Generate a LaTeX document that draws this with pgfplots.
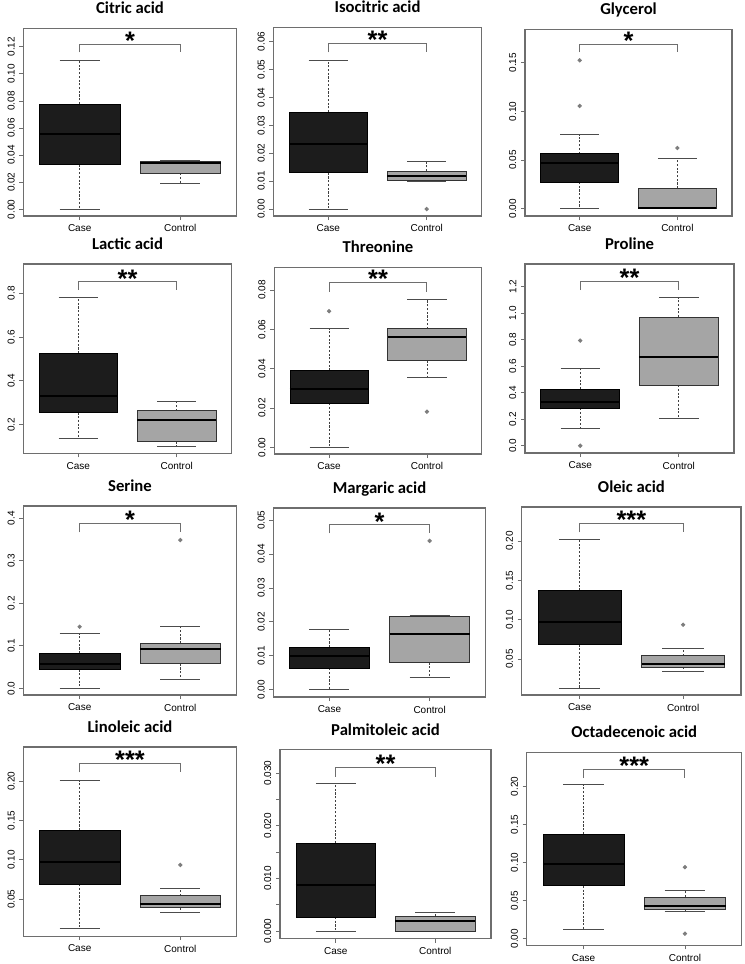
\documentclass[border=0pt]{standalone}
\usepackage{pgfplots}
\pgfplotsset{compat=1.18}
\usepgfplotslibrary{statistics}
\usepackage{fontspec}
\setmainfont{Liberation Sans}
\newfontfamily\titlefont{Carlito}
\definecolor{casefill}{RGB}{28,28,28}
\definecolor{ctrlfill}{RGB}{165,165,165}
\definecolor{framec}{RGB}{110,110,110}
\definecolor{outl}{RGB}{125,125,125}

\tikzset{
  wline/.style={draw=black!75, fill=none, line width=0.6pt, dash pattern=on 1.6pt off 1.2pt},
  cline/.style={draw=black!70, fill=none, line width=0.7pt, solid},
  stars/.style={font=\bfseries\fontsize{19}{19}\selectfont, anchor=base, inner sep=0pt, yshift=-3.9pt},
}

\pgfplotsset{
  every axis title shift=0pt,
  bp/.style={
    scale only axis, anchor=north west, clip=false,
    xmin=0.44, xmax=2.56,
    xtick={1,2}, xticklabels={Case,Control},
    tick align=outside, xtick pos=bottom, ytick pos=left,
    major tick length=3pt,
    scaled y ticks=false,
    axis line style={framec, line width=0.9pt},
    tick style={framec, line width=0.6pt},
    ticklabel style={font=\fontsize{7.5}{9}\selectfont},
    yticklabel style={rotate=90, anchor=south},
    title style={font=\titlefont\bfseries\fontsize{12.5}{15}\selectfont, anchor=base, at={(0.5,1)}, yshift=11pt},
    boxplot/draw direction=y,
    boxplot/box extend=0.8,
    boxplot/whisker extend=0.4,
    boxplot/every median/.style={draw=black, line width=1.5pt},
    boxplot/draw/lower whisker/.code={%
      \draw[wline] (boxplot box cs:\pgfplotsboxplotvalue{lower quartile},0.5) -- (boxplot box cs:\pgfplotsboxplotvalue{lower whisker},0.5);
      \draw[cline] (boxplot whisker cs:\pgfplotsboxplotvalue{lower whisker},0) -- (boxplot whisker cs:\pgfplotsboxplotvalue{lower whisker},1);
    },
    boxplot/draw/upper whisker/.code={%
      \draw[wline] (boxplot box cs:\pgfplotsboxplotvalue{upper quartile},0.5) -- (boxplot box cs:\pgfplotsboxplotvalue{upper whisker},0.5);
      \draw[cline] (boxplot whisker cs:\pgfplotsboxplotvalue{upper whisker},0) -- (boxplot whisker cs:\pgfplotsboxplotvalue{upper whisker},1);
    },
  },
  case/.style={fill=casefill, draw=black, line width=0.6pt, mark=*, mark size=1.3pt, mark options={fill=outl, draw=outl, solid}},
  ctrl/.style={fill=ctrlfill, draw=black!80, line width=0.6pt, mark=*, mark size=1.3pt, mark options={fill=outl, draw=outl, solid}},
  brk/.style={draw=framec, line width=0.7pt, mark=none},
}

\begin{document}
\begin{tikzpicture}
\useasboundingbox (0,0) rectangle (558pt,-723pt);

% row 1
\begin{axis}[bp, at={(17.5pt,-21.2pt)}, width=160pt, height=140.8pt, title={Citric acid},
  ymin=-0.0049, ymax=0.1336, ytick={0,0.02,0.04,0.06,0.08,0.10,0.12},
  yticklabels={0.00,0.02,0.04,0.06,0.08,0.10,0.12}]
\addplot[case, boxplot prepared={draw position=1, lower whisker=0, lower quartile=0.033, median=0.0553, upper quartile=0.0777, upper whisker=0.1095}] coordinates {};
\addplot[ctrl, boxplot prepared={draw position=2, lower whisker=0.0194, lower quartile=0.0266, median=0.0342, upper quartile=0.0352, upper whisker=0.0362}] coordinates {};
\addplot[brk] coordinates {(1,0.1159) (1,0.1218) (2,0.1218) (2,0.1159)};
\node[stars] at (axis cs:1.5,0.1218) {*};
\end{axis}

\begin{axis}[bp, at={(205pt,-20.5pt)}, width=156.3pt, height=141.5pt, title={Isocitric acid},
  ymin=-0.0025, ymax=0.0651, ytick={0,0.01,0.02,0.03,0.04,0.05,0.06},
  yticklabels={0.00,0.01,0.02,0.03,0.04,0.05,0.06}]
\addplot[case, boxplot prepared={draw position=1, lower whisker=0, lower quartile=0.0130, median=0.0233, upper quartile=0.0347, upper whisker=0.0534}] coordinates {};
\addplot[ctrl, boxplot prepared={draw position=2, lower whisker=0.0100, lower quartile=0.0102, median=0.0119, upper quartile=0.0136, upper whisker=0.0172}] coordinates {(0,0.0)};
\addplot[brk] coordinates {(1,0.0561) (1,0.0593) (2,0.0593) (2,0.0561)};
\node[stars] at (axis cs:1.5,0.0593) {**};
\end{axis}

\begin{axis}[bp, at={(393.75pt,-22pt)}, width=155.3pt, height=140pt, title={Glycerol},
  ymin=-0.0075, ymax=0.1842, ytick={0,0.05,0.10,0.15},
  yticklabels={0.00,0.05,0.10,0.15}]
\addplot[case, boxplot prepared={draw position=1, lower whisker=0, lower quartile=0.0274, median=0.0473, upper quartile=0.0565, upper whisker=0.0760}] coordinates {(0,0.1055) (0,0.1524)};
\addplot[ctrl, boxplot prepared={draw position=2, lower whisker=0, lower quartile=0, median=0.0005, upper quartile=0.0209, upper whisker=0.0514}] coordinates {(0,0.0623)};
\addplot[brk] coordinates {(1,0.1606) (1,0.169) (2,0.169) (2,0.1606)};
\node[stars] at (axis cs:1.5,0.169) {*};
\end{axis}

% row 2
\begin{axis}[bp, at={(17.5pt,-198pt)}, width=156.3pt, height=142pt, title={Lactic acid},
  ymin=0.069, ymax=0.934, ytick={0.2,0.4,0.6,0.8},
  yticklabels={0.2,0.4,0.6,0.8}]
\addplot[case, boxplot prepared={draw position=1, lower whisker=0.139, lower quartile=0.256, median=0.331, upper quartile=0.526, upper whisker=0.780}] coordinates {};
\addplot[ctrl, boxplot prepared={draw position=2, lower whisker=0.1025, lower quartile=0.122, median=0.220, upper quartile=0.264, upper whisker=0.305}] coordinates {};
\addplot[brk] coordinates {(1,0.815) (1,0.852) (2,0.852) (2,0.815)};
\node[stars] at (axis cs:1.5,0.852) {**};
\end{axis}

\begin{axis}[bp, at={(205.7pt,-200.5pt)}, width=155.6pt, height=140pt, title={Threonine},
  ymin=-0.0034, ymax=0.0915, ytick={0,0.02,0.04,0.06,0.08},
  yticklabels={0.00,0.02,0.04,0.06,0.08}]
\addplot[case, boxplot prepared={draw position=1, lower whisker=0, lower quartile=0.0225, median=0.0298, upper quartile=0.039, upper whisker=0.0603}] coordinates {(0,0.0692)};
\addplot[ctrl, boxplot prepared={draw position=2, lower whisker=0.0354, lower quartile=0.0441, median=0.0559, upper quartile=0.0603, upper whisker=0.0753}] coordinates {(0,0.0181)};
\addplot[brk] coordinates {(1,0.0792) (1,0.0837) (2,0.0837) (2,0.0792)};
\node[stars] at (axis cs:1.5,0.0837) {**};
\end{axis}

\begin{axis}[bp, at={(393.75pt,-198pt)}, width=156.8pt, height=141.8pt, title={Proline},
  ymin=-0.055, ymax=1.370, ytick={0,0.2,0.4,0.6,0.8,1.0,1.2},
  yticklabels={0.0,0.2,0.4,0.6,0.8,1.0,1.2}]
\addplot[case, boxplot prepared={draw position=1, lower whisker=0.133, lower quartile=0.284, median=0.329, upper quartile=0.427, upper whisker=0.582}] coordinates {(0,0.793) (0,0.0)};
\addplot[ctrl, boxplot prepared={draw position=2, lower whisker=0.208, lower quartile=0.457, median=0.668, upper quartile=0.969, upper whisker=1.117}] coordinates {};
\addplot[brk] coordinates {(1,1.174) (1,1.237) (2,1.237) (2,1.174)};
\node[stars] at (axis cs:1.5,1.237) {**};
\end{axis}

% row 3
\begin{axis}[bp, at={(17.5pt,-379.5pt)}, width=160pt, height=141.8pt, title={Serine},
  ymin=-0.0157, ymax=0.429, ytick={0,0.1,0.2,0.3,0.4},
  yticklabels={0.0,0.1,0.2,0.3,0.4}]
\addplot[case, boxplot prepared={draw position=1, lower whisker=0, lower quartile=0.0447, median=0.058, upper quartile=0.0824, upper whisker=0.1286}] coordinates {(0,0.145)};
\addplot[ctrl, boxplot prepared={draw position=2, lower whisker=0.022, lower quartile=0.058, median=0.0925, upper quartile=0.106, upper whisker=0.145}] coordinates {(0,0.349)};
\addplot[brk] coordinates {(1,0.367) (1,0.388) (2,0.388) (2,0.367)};
\node[stars] at (axis cs:1.5,0.388) {*};
\end{axis}

\begin{axis}[bp, at={(205pt,-381pt)}, width=159.3pt, height=141.8pt, title={Margaric acid},
  ymin=-0.0022, ymax=0.0536, ytick={0,0.01,0.02,0.03,0.04,0.05},
  yticklabels={0.00,0.01,0.02,0.03,0.04,0.05}]
\addplot[case, boxplot prepared={draw position=1, lower whisker=0, lower quartile=0.0063, median=0.0098, upper quartile=0.0125, upper whisker=0.0177}] coordinates {};
\addplot[ctrl, boxplot prepared={draw position=2, lower whisker=0.0037, lower quartile=0.0080, median=0.0164, upper quartile=0.0216, upper whisker=0.0219}] coordinates {(0,0.0439)};
\addplot[brk] coordinates {(1,0.0461) (1,0.0486) (2,0.0486) (2,0.0461)};
\node[stars] at (axis cs:1.5,0.0486) {*};
\end{axis}

\begin{axis}[bp, at={(391.3pt,-380.3pt)}, width=164.5pt, height=141pt, title={Oleic acid},
  ymin=0.0042, ymax=0.243, ytick={0.05,0.10,0.15,0.20},
  yticklabels={0.05,0.10,0.15,0.20}]
\addplot[case, boxplot prepared={draw position=1, lower whisker=0.0123, lower quartile=0.0686, median=0.0975, upper quartile=0.137, upper whisker=0.2013}] coordinates {};
\addplot[ctrl, boxplot prepared={draw position=2, lower whisker=0.034, lower quartile=0.0398, median=0.044, upper quartile=0.0542, upper whisker=0.0636}] coordinates {(0,0.0936)};
\addplot[brk] coordinates {(1,0.211) (1,0.222) (2,0.222) (2,0.211)};
\node[stars] at (axis cs:1.5,0.222) {***};
\end{axis}

% row 4
\begin{axis}[bp, at={(17.5pt,-560.3pt)}, width=160pt, height=141.8pt, title={Linoleic acid},
  ymin=0.003, ymax=0.2434, ytick={0.05,0.10,0.15,0.20},
  yticklabels={0.05,0.10,0.15,0.20}]
\addplot[case, boxplot prepared={draw position=1, lower whisker=0.0123, lower quartile=0.069, median=0.097, upper quartile=0.1376, upper whisker=0.2015}] coordinates {};
\addplot[ctrl, boxplot prepared={draw position=2, lower whisker=0.0331, lower quartile=0.039, median=0.0437, upper quartile=0.0544, upper whisker=0.0633}] coordinates {(0,0.0935)};
\addplot[brk] coordinates {(1,0.2113) (1,0.2226) (2,0.2226) (2,0.2113)};
\node[stars] at (axis cs:1.5,0.2226) {***};
\end{axis}

\begin{axis}[bp, at={(210pt,-562.3pt)}, width=158.3pt, height=141.8pt, title={Palmitoleic acid},
  ymin=-0.00145, ymax=0.0344, ytick={0,0.005,0.010,0.015,0.020,0.025,0.030},
  yticklabels={0.000,,0.010,,0.020,,0.030}]
\addplot[case, boxplot prepared={draw position=1, lower whisker=0, lower quartile=0.0027, median=0.0088, upper quartile=0.0167, upper whisker=0.0280}] coordinates {};
\addplot[ctrl, boxplot prepared={draw position=2, lower whisker=0, lower quartile=0, median=0.0019, upper quartile=0.0028, upper whisker=0.0035}] coordinates {};
\addplot[brk] coordinates {(1,0.0293) (1,0.0310) (2,0.0310) (2,0.0293)};
\node[stars] at (axis cs:1.5,0.0310) {**};
\end{axis}

\begin{axis}[bp, at={(395pt,-564.2pt)}, width=161.3pt, height=144.8pt, title={Octadecenoic acid},
  ymin=-0.0088, ymax=0.245, ytick={0,0.05,0.10,0.15,0.20},
  yticklabels={0.00,0.05,0.10,0.15,0.20}]
\addplot[case, boxplot prepared={draw position=1, lower whisker=0.0127, lower quartile=0.0695, median=0.0976, upper quartile=0.1376, upper whisker=0.2026}] coordinates {};
\addplot[ctrl, boxplot prepared={draw position=2, lower whisker=0.0352, lower quartile=0.0391, median=0.0431, upper quartile=0.0545, upper whisker=0.0629}] coordinates {(0,0.094) (0,0.0066)};
\addplot[brk] coordinates {(1,0.211) (1,0.222) (2,0.222) (2,0.211)};
\node[stars] at (axis cs:1.5,0.222) {***};
\end{axis}

\end{tikzpicture}
\end{document}
